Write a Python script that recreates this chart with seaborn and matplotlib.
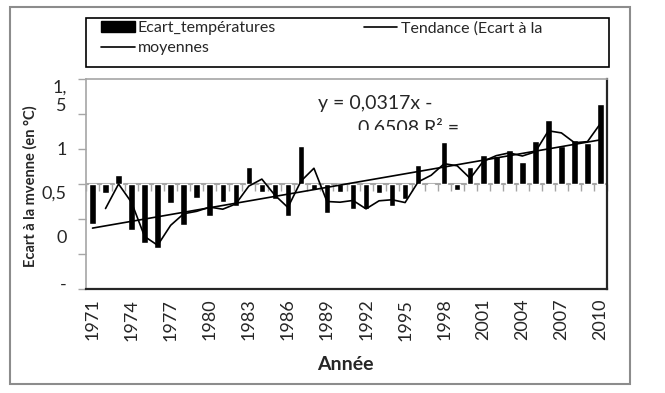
import numpy as np
import pandas as pd
import seaborn as sns
import matplotlib.pyplot as plt
from matplotlib.patches import Patch, Rectangle
from matplotlib.lines import Line2D
from matplotlib.transforms import Bbox, TransformedBbox

# Ecart a la moyenne, 1971-2010
years = list(range(1971, 2011))
ecart = [-0.57, -0.13, 0.13, -0.66, -0.84, -0.91, -0.27, -0.58, -0.20, -0.46,
         -0.26, -0.31, 0.25, -0.11, -0.21, -0.46, 0.54, -0.09, -0.41, -0.11,
         -0.36, -0.35, -0.13, -0.32, -0.21, 0.27, -0.02, 0.60, -0.08, 0.24,
         0.41, 0.40, 0.49, 0.31, 0.61, 0.91, 0.55, 0.63, 0.58, 1.15]
year_labels = [str(y) for y in years[::3]]
ytick_texts = ['1,\n5', '1', '0,5', '0', '-']
ytick_text_pos = [1.286, 0.514, -0.114, -0.757, -1.414]

sns.set_theme(style='white')
plt.rcParams['font.family'] = ['Lato', 'DejaVu Sans']

df = pd.DataFrame({'annee': [str(y) for y in years], 'ecart': ecart})
df['idx'] = np.arange(len(df))
df['moy'] = df['ecart'].rolling(2).mean()

fig = plt.figure(figsize=(6.65, 3.93), dpi=100)
ax = fig.add_axes([86 / 665, 1 - 289 / 393, 521 / 665, 210 / 393])

sns.barplot(data=df, x='annee', y='ecart', color='black', saturation=1,
            width=0.5, ax=ax)
sns.lineplot(data=df, x='idx', y='moy', color='black', lw=1.2, ax=ax)
sns.regplot(data=df, x='idx', y='ecart', scatter=False, ci=None,
            color='black', line_kws={'lw': 1.2}, ax=ax)

ax.set_xlim(-0.5, len(years) - 0.5)
ax.set_ylim(-1.5, 1.5)

# baseline with small tick marks between categories
ax.axhline(0, color='#a6a6a6', lw=1.5, zorder=0.5)
sec = ax.secondary_xaxis(0.5)
sec.set_xticks(np.arange(-0.5, len(years), 1))
sec.set_xticklabels([])
sec.tick_params(axis='x', which='both', direction='in', length=5, width=1,
                color='#a6a6a6')
for s in sec.spines.values():
    s.set_visible(False)

# x ticks every third year
ax.set_xticks(np.arange(0, len(years), 3))
ax.set_xticklabels(year_labels, rotation=90, fontsize=13)
ax.tick_params(axis='x', length=0, pad=7)

# y ticks: marks at major, labels where Excel put them
ax.set_yticks(np.arange(-1.5, 1.51, 0.5))
ax.set_yticklabels([])
ax.tick_params(axis='y', which='major', direction='out', length=6,
               width=1, color='#a6a6a6', left=True)
ax.set_yticks(ytick_text_pos, minor=True)
ax.set_yticklabels(ytick_texts, minor=True, fontsize=13)
ax.tick_params(axis='y', which='minor', length=0, pad=14)

for s in ['left', 'top']:
    ax.spines[s].set_color('#a6a6a6')
    ax.spines[s].set_linewidth(1.2)
for s in ['right', 'bottom']:
    ax.spines[s].set_color('#262626')
    ax.spines[s].set_linewidth(1.6)

ax.set_xlabel('Année', fontsize=14, fontweight='bold')
ax.xaxis.set_label_coords(0.497, -0.32)
ax.set_ylabel('Ecart à la mvenne (en °C)', fontsize=10.5, fontweight='bold')
ax.yaxis.set_label_coords(-0.092, 0.49)

# trend equation (second line cut off as in the original)
ax.text(17.35, 1.07, 'y = 0,0317x -', fontsize=14, va='baseline')
t2 = ax.text(20.42, 0.73, '0,6508 R² =', fontsize=14, va='baseline')
t2.set_clip_box(TransformedBbox(Bbox([[-0.5, 0.771], [39.5, 1.5]]),
                                ax.transData))
t2.set_clip_on(True)

# legend
handles = [Patch(color='black'),
           Line2D([], [], color='black', lw=1.2),
           Line2D([], [], color='black', lw=1.2)]
labels = ['Ecart_températures', 'moyennes', 'Tendance (Ecart à la']
fig.legend(handles, labels, ncol=2, loc='upper left',
           bbox_to_anchor=(101 / 665, 1 - 21 / 393), frameon=False,
           fontsize=11.5, handlelength=2.1, handleheight=0.7,
           handletextpad=0.2, columnspacing=5.5, labelspacing=0.35,
           borderpad=0, borderaxespad=0)
fig.patches.append(Rectangle((86 / 665, 1 - 67 / 393), 523 / 665, 49 / 393,
                             transform=fig.transFigure, fill=False,
                             edgecolor='black', lw=1.2))
fig.patches.append(Rectangle((10 / 665, 1 - 384 / 393), 620 / 665, 377 / 393,
                             transform=fig.transFigure, fill=False,
                             edgecolor='#8c8c8c', lw=1.5))

fig.savefig('out.png', dpi=100)
